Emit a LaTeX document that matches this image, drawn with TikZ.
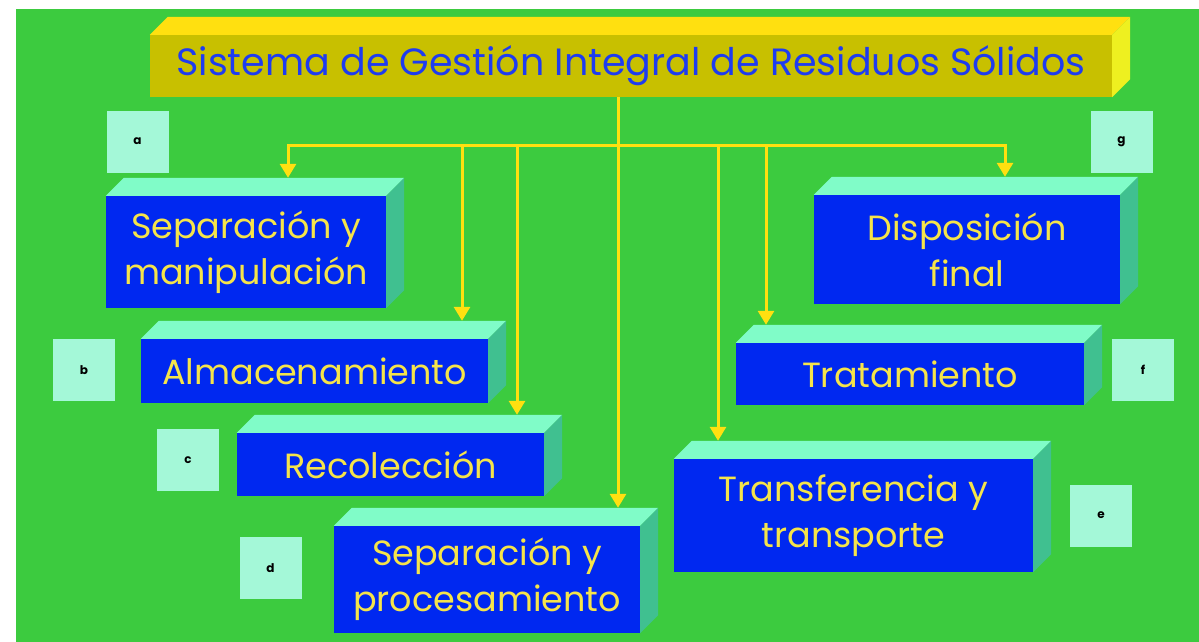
\documentclass[tikz,border=0pt]{standalone}
\usepackage{fontspec}
\setmainfont{Poppins}
\usetikzlibrary{arrows.meta}

\definecolor{fondo}{HTML}{3CCB3F}
\definecolor{azul}{HTML}{0028F0}
\definecolor{tapa}{HTML}{80FCC8}
\definecolor{lado}{HTML}{40C090}
\definecolor{amarillo}{HTML}{F5E44A}
\definecolor{oro}{HTML}{FFE010}
\definecolor{oliva}{HTML}{C8C000}
\definecolor{ladooro}{HTML}{EEF020}
\definecolor{letra}{HTML}{1E3CF0}
\definecolor{etiq}{HTML}{A4F8D8}

\tikzset{
  caja/.style={fill=azul, text=amarillo, align=center, inner sep=0pt,
    font=\fontsize{35}{46}\selectfont},
  marca/.style={fill=etiq, minimum width=62pt, minimum height=62pt,
    inner sep=0pt, font=\fontsize{12}{12}\selectfont\bfseries},
  linea/.style={draw=oro, line width=3pt},
  flecha/.style={linea, -{Triangle[width=16pt,length=14pt]}},
}

% top and side faces of a box: node, top colour, side colour
\newcommand{\caras}[3]{%
  \fill[#2] (#1.north west) -- ++(18,-18) -- ([shift={(18,-18)}]#1.north east)
    -- (#1.north east) -- cycle;
  \fill[#3] (#1.north east) -- ++(18,-18) -- ([shift={(18,-18)}]#1.south east)
    -- (#1.south east) -- cycle;
  \coordinate (#1-top) at ([yshift=18pt]#1.north);
}

\begin{document}
\begin{tikzpicture}[x=1pt,y=-1pt]
\fill[white] (0,0) rectangle (1199,642);
\useasboundingbox (0,0) rectangle (1199,642);
\fill[fondo] (16,9) rectangle (1199,642);

% Title
\node[fill=oliva, text=letra, inner sep=0pt, minimum width=962pt, minimum height=62pt,
  font=\fontsize{38}{40}\selectfont] (titulo) at (631,66)
  {Sistema de Gestión Integral de Residuos Sólidos};
\caras{titulo}{oro}{ladooro}

% Stages
\node[caja, minimum width=280pt, minimum height=112pt] (sepmanip) at (246,252)
  {Separación y\\manipulación};
\node[caja, minimum width=347pt, minimum height=64pt] (almac) at (314.5,371)
  {Almacenamiento};
\node[caja, minimum width=307pt, minimum height=63pt] (recol) at (390.5,464.5)
  {Recolección};
\node[caja, minimum width=306pt, minimum height=107pt] (sepproc) at (487,579.5)
  {Separación y\\procesamiento};
\node[caja, minimum width=306pt, minimum height=109pt] (dispo) at (967,249.5)
  {Disposición\\final};
\node[caja, minimum width=348pt, minimum height=62pt] (trata) at (910,374)
  {Tratamiento};
\node[caja, minimum width=359pt, minimum height=113pt] (transf) at (853.5,515.5)
  {Transferencia y\\transporte};
\foreach \n in {sepmanip,almac,recol,sepproc,dispo,trata,transf}
  \caras{\n}{tapa}{lado};

% Letters
\node[marca] (la) at (137.5,141.5) {a};
\node[marca] (lb) at (84,370) {b};
\node[marca] (lc) at (188,460) {c};
\node[marca] (ld) at (270.5,568) {d};
\node[marca] (le) at (1101,515.5) {e};
\node[marca] (lf) at (1143,370) {f};
\node[marca] (lg) at (1121.5,141.5) {g};

% Connectors
\coordinate (b1) at (288,145);
\coordinate (b2) at (462,145);
\coordinate (b3) at (517,145);
\coordinate (raiz) at (618,145);
\coordinate (b4) at (718,145);
\coordinate (b5) at (766,145);
\coordinate (b6) at (1005,145);

\draw[linea, line cap=rect] (b1) -- (b6);
\draw[linea] (titulo.south -| raiz) -- (raiz);
\draw[flecha] (raiz) -- (raiz |- sepproc-top);
\draw[flecha] (b1) -- (b1 |- sepmanip-top);
\draw[flecha] (b2) -- (b2 |- almac-top);
\draw[flecha] (b3) -- (b3 |- recol-top);
\draw[flecha] (b4) -- (b4 |- transf-top);
\draw[flecha] (b5) -- (b5 |- trata-top);
\draw[flecha] (b6) -- (b6 |- dispo-top);
\end{tikzpicture}
\end{document}
